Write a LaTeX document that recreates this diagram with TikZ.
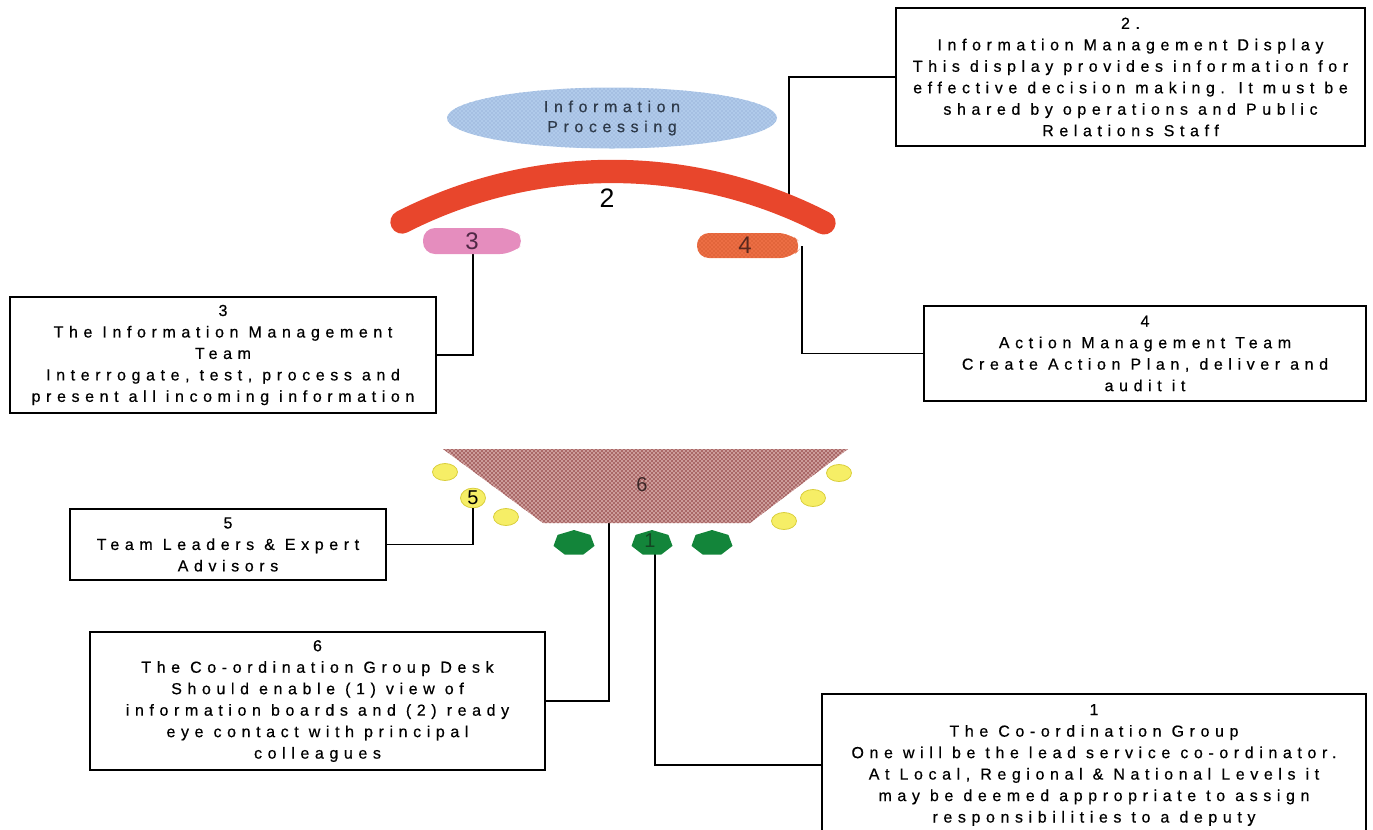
\documentclass[tikz,border=0pt]{standalone}
\usepackage{fontspec}
\setmainfont{Liberation Sans}
\newfontfamily\spc{Liberation Sans}[LetterSpace=35,FakeBold=0.5]
\usetikzlibrary{shapes.geometric,patterns}
\definecolor{arcred}{HTML}{E8462C}
\definecolor{infoblue}{HTML}{B0CAEA}
\definecolor{infoblued}{HTML}{829ECB}
\definecolor{infotext}{HTML}{2E3A4A}
\definecolor{pinkc}{HTML}{E58DBE}
\definecolor{orangec}{HTML}{EC6E44}
\definecolor{orangecd}{HTML}{C4481F}
\definecolor{deskc}{HTML}{D0A2A0}
\definecolor{deskd}{HTML}{A35E5E}
\definecolor{seatc}{HTML}{F6EE66}
\definecolor{seatd}{HTML}{D9CE3C}
\definecolor{grn}{HTML}{13853A}
\newcommand\heptagon[1]{\fill[grn] (#1) +(0,-13) -- +(16.4,-8.1) -- +(20.5,2.9) -- +(9.1,11.7) -- +(-9.1,11.7) -- +(-20.5,2.9) -- +(-16.4,-8.1) -- cycle;}
\begin{document}
\begin{tikzpicture}[x=0.75pt,y=-0.75pt,
  infobox/.style={draw=black, line width=1.3pt, fill=white, inner sep=0pt, align=center,
    font=\spc\fontsize{12}{16.1}\selectfont},
  conn/.style={draw=black, line width=1.4pt},
  numlbl/.style={inner sep=0pt, font=\fontsize{15}{15}\selectfont},
  seat/.style={ellipse, fill=seatc, draw=seatd, line width=0.6pt,
    minimum width=18.75pt, minimum height=12.75pt, inner sep=0pt}]
\useasboundingbox (0,0) rectangle (1373,829);

% boxes
\node[infobox, minimum width=469*0.75pt, minimum height=138*0.75pt] (b2) at (1130.5,77)
  {2.\\Information Management Display\\This display provides information for\\effective decision making. It must be\\shared by operations and Public\\Relations Staff};
\node[infobox, minimum width=426*0.75pt, minimum height=116*0.75pt] (b3) at (223,355)
  {3\\The Information Management\\Team\\Interrogate, test, process and\\present all incoming information};
\node[infobox, minimum width=442*0.75pt, minimum height=95*0.75pt] (b4) at (1145,353.5)
  {4\\Action Management Team\\Create Action Plan, deliver and\\audit it};
\node[infobox, minimum width=316*0.75pt, minimum height=71*0.75pt] (b5) at (228,544.5)
  {5\\Team Leaders \& Expert\\Advisors};
\node[infobox, minimum width=455*0.75pt, minimum height=138*0.75pt] (b6) at (317.5,701)
  {6\\The Co-ordination Group Desk\\Should enable (1) view of\\information boards and (2) ready\\eye contact with principal\\colleagues};
\node[infobox, minimum width=544*0.75pt, minimum height=142*0.75pt] (b1) at (1094,765)
  {1\\The Co-ordination Group\\One will be the lead service co-ordinator.\\At Local, Regional \& National Levels it\\may be deemed appropriate to assign\\responsibilities to a deputy};

% anchor coordinates for connectors
\coordinate (a2) at (789,206);
\coordinate (c3) at (473,241);
\coordinate (c4) at (802,246);
\coordinate (d6) at (609,515);
\coordinate (c1) at (655,543);

% connectors (drawn under the shapes)
\draw[conn] (a2) |- (b2.west);
\draw[conn] (c3) |- (b3.east);
\draw[conn] (c4) |- (b4.west);
\draw[conn] (d6) |- (b6.east);
\draw[conn] (c1) |- (b1.west);

% information processing ellipse
\node[ellipse, fill=infoblue, minimum width=247.5pt, minimum height=45.75pt, inner sep=0pt,
  align=center, text=infotext, font=\spc\fontsize{12}{15}\selectfont,
  postaction={pattern=crosshatch dots, pattern color=infoblued}] (ip) at (612,118)
  {Information\\Processing};

% display arc (circular, apex at y=170)
\coordinate (arcL) at (402,222);
\draw[arcred, line width=17.5pt, line cap=round] (arcL) arc[start angle=117.06, end angle=62.71, radius=346.5pt];
\node[inner sep=0pt, font=\fontsize{20}{20}\selectfont] (n2) at (607,198) {2};

% team pills
\fill[pinkc, rounded corners=9pt] (423,228) -- (512,228) -- (526,241) -- (512,254) -- (423,254) -- cycle;
\node[inner sep=0pt, text={rgb,255:red,80;green,40;blue,70}, font=\fontsize{18}{18}\selectfont] (p3) at (472,241) {3};
\fill[orangec, rounded corners=9pt, postaction={pattern=crosshatch dots, pattern color=orangecd}]
  (697,233) -- (790,233) -- (803,245) -- (792,258) -- (697,258) -- cycle;
\node[inner sep=0pt, text={rgb,255:red,90;green,40;blue,30}, font=\fontsize{18}{18}\selectfont] (p4) at (745,245) {4};

% desk
\fill[deskc, postaction={pattern=north east lines, pattern color=deskd},
  postaction={pattern=north west lines, pattern color=deskd}]
  (443,449) -- (848,449) -- (750,523) -- (543,523) -- cycle;
\node[numlbl, text={rgb,255:red,60;green,40;blue,40}] (d6l) at (642,485) {6};

% seats
\node[seat] (sL1) at (445,472) {};
\node[seat, font=\fontsize{15}{15}\selectfont] (s5) at (473,498) {5};
\node[seat] (sL3) at (506,517) {};
\node[seat] (sR1) at (839,473) {};
\node[seat] (sR2) at (813,498) {};
\node[seat] (sR3) at (784,521) {};
\draw[conn] (s5.south) |- (b5.east);

% co-ordination group
\heptagon{574,543}
\heptagon{652,543}
\heptagon{712,543}
\node[inner sep=0pt] (hA) at (574,543) {};
\node[numlbl, text={rgb,255:red,20;green,70;blue,35}] (h1) at (650,541) {1};
\node[inner sep=0pt] (hB) at (712,543) {};
\end{tikzpicture}
\end{document}
